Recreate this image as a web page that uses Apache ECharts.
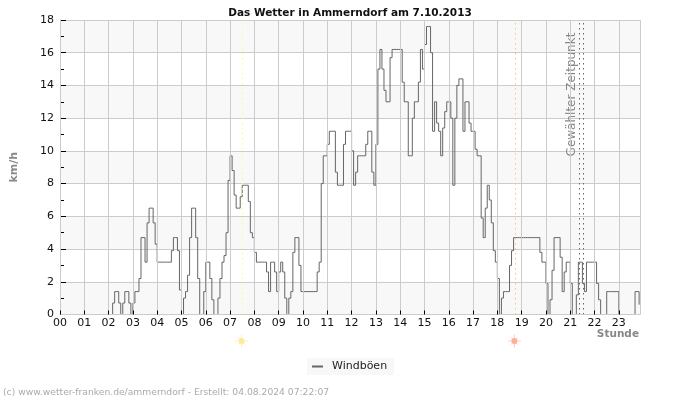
<!DOCTYPE html>
<html><head><meta charset="utf-8">
<style>html,body{margin:0;padding:0;background:#fff}#c{width:700px;height:400px}</style>
<script src="https://cdn.jsdelivr.net/npm/echarts@6/dist/echarts.min.js"></script>
</head><body><div id="c"></div>
<script>
const titleText = 'Das Wetter in Ammerndorf am 7.10.2013';
const footerText = '(c) www.wetter-franken.de/ammerndorf - Erstellt: 04.08.2024 07:22:07';
const seriesName = 'Windböen';
const hourLabels = ['00','01','02','03','04','05','06','07','08','09','10','11','12','13','14','15','16','17','18','19','20','21','22','23'];
const sunrise = 7.49, sunset = 18.72;
const selectedTimes = [21.37, 21.54];
const stepMinutes = 5;
const gusts = [
0,0,0,0,0,0,0,0,0,0,0,0,0,0,0,0,0,0,0,0,0,0,0,0,0,0,
.7,1.4,1.4,.7,0,.7,1.4,1.4,.7,0,.7,1.4,1.4,2.2,4.7,4.7,3.2,5.6,6.5,6.5,5.6,4.3,
3.2,3.2,3.2,3.2,3.2,3.2,3.2,3.9,4.7,4.7,3.9,1.5,0,1,1.4,2.4,4.7,6.5,6.5,4.7,2.2,0,0,
1.4,3.2,3.2,2.2,.9,0,0,1,2.2,3.2,3.6,5,8.2,9.7,8.8,7.3,6.5,6.5,7.2,7.9,7.9,7.9,6.9,5,4.7,3.8,
3.2,3.2,3.2,3.2,3.2,2.6,1.4,3.2,3.2,2.6,1.4,2.6,3.2,2.6,1,0,1,1.4,3.8,4.7,4.7,3,
1.4,1.4,1.4,1.4,1.4,1.4,1.4,1.4,2.6,3.2,8,9.7,9.7,10.4,11.2,11.2,11.2,8.7,7.9,7.9,7.9,10.4,
11.2,11.2,11.2,10,7.9,8.7,9.7,9.7,9.7,9.7,10.4,11.2,11.2,8.7,7.9,10.4,15,16.2,15,13.7,13,13,15.7,
16.2,16.2,16.2,16.2,16.2,14.2,13,13,9.7,9.7,12,13,13,14.2,16.2,15,16.5,17.6,17.6,16,11.2,13,11.7,11.2,9.7,
11.4,12.4,13,13,12,7.9,12,14,14.4,14.4,11.2,13,13,11.7,11.2,11.2,10.1,9.7,9.7,5.9,4.7,6.5,7.9,7,5.6,3.9,3.2,2.2,0,1,
1.4,1.4,1.4,3,3.9,4.7,4.7,4.7,4.7,4.7,4.7,4.7,4.7,4.7,4.7,4.7,4.7,4.7,3.8,3.2,3.2,1.9,0,.9,2.7,4.7,4.7,4.7,3.5,1.4,2.6,
3.2,3.2,1.9,0,0,1.2,3.2,3.2,1.9,1.4,3.2,3.2,3.2,3.2,3.2,1.9,.9,0,0,0,1.4,1.4,1.4,1.4,1.4,1.4,0,0,0,0,0,0,0,0,1.4,1.4,.6
];
const points = gusts.map((v,i)=>[i*stepMinutes/60, v]);

const chart = echarts.init(document.getElementById('c'),null,{renderer:'canvas'});
const FONT='"DejaVu Sans"';
const vline=(x,color)=>({xAxis:x,lineStyle:{color:color,type:[1.5,3.5],width:1}});
chart.setOption({
  animation:false,
  textStyle:{fontFamily:FONT},
  title:{text:titleText,left:'center',top:3,textStyle:{fontFamily:FONT,fontSize:10.5,fontWeight:'bold',color:'#111'}},
  legend:{show:true,left:307,top:358,padding:[3,7,3,5],backgroundColor:'#f8f8f8',icon:'rect',itemWidth:11,itemHeight:2,
    data:[seriesName],textStyle:{fontFamily:FONT,fontSize:11,color:'#222',padding:[0,0,0,4]}},
  grid:{left:60,right:60,top:20,bottom:85.5,containLabel:false},
  xAxis:{type:'value',min:0,max:23.87,interval:1,z:10,
    name:'Stunde',nameLocation:'end',nameGap:-1,
    nameTextStyle:{fontFamily:FONT,fontWeight:'bold',fontSize:10.5,color:'#888',align:'right',verticalAlign:'top',padding:[14,0,0,0]},
    axisLine:{show:true,onZero:false,lineStyle:{color:'#ccc',width:1}},
    axisTick:{show:true,inside:true,length:4,lineStyle:{color:'#000',width:1}},
    axisLabel:{margin:3,fontFamily:FONT,fontSize:11,color:'#111',showMinLabel:true,showMaxLabel:false,
      formatter:v=>hourLabels[Math.round(v)]||''},
    splitLine:{show:true,lineStyle:{color:'#ccc',width:1}}},
  yAxis:{type:'value',min:0,max:18,interval:2,
    name:'km/h',nameLocation:'middle',nameGap:40,nameRotate:90,
    nameTextStyle:{fontFamily:FONT,fontWeight:'bold',fontSize:11,color:'#888'},
    axisLine:{show:true,lineStyle:{color:'#ccc',width:1}},
    axisTick:{show:true,inside:true,length:6,lineStyle:{color:'#000',width:1}},
    minorTick:{show:true,splitNumber:2,length:4,lineStyle:{color:'#000',width:1}},
    axisLabel:{margin:6,fontFamily:FONT,fontSize:11,color:'#111'},
    splitLine:{show:true,lineStyle:{color:'#ccc',width:1}},
    splitArea:{show:true,areaStyle:{color:['#f8f8f8','#ffffff']}}},
  series:[{
    name:seriesName,type:'line',step:'end',showSymbol:false,symbol:'none',
    data:points,z:3,
    lineStyle:{color:'#666',width:1},itemStyle:{color:'#666'},
    markLine:{silent:true,symbol:'none',label:{show:false},animation:false,
      data:[vline(sunrise,'#ffff66'),vline(sunset,'#f5c97a'),vline(selectedTimes[0],'#666'),vline(selectedTimes[1],'#666')]}
  }]
});
function sun(cx,cy,core,ray){
  const kids=[];
  for(let a=0;a<8;a++){
    const t=a*Math.PI/4;
    kids.push({type:'line',shape:{x1:cx+Math.cos(t)*3,y1:cy+Math.sin(t)*3,x2:cx+Math.cos(t)*(a%2?5:6.5),y2:cy+Math.sin(t)*(a%2?5:6.5)},
      style:{stroke:ray,lineWidth:1},silent:true});
  }
  kids.push({type:'circle',shape:{cx:cx,cy:cy,r:3},style:{fill:core},silent:true});
  return {type:'group',children:kids};
}
const sx1=chart.convertToPixel({xAxisIndex:0},sunrise), sx2=chart.convertToPixel({xAxisIndex:0},sunset);
const labelX=chart.convertToPixel({xAxisIndex:0},selectedTimes[0])-7.5;
chart.setOption({graphic:[
  sun(sx1-0.5,341,'#ffe99a','#ffefb8'),
  sun(sx2-0.5,341,'#ffae98','#ffcdbf'),
  {type:'text',x:labelX,y:94.5,rotation:Math.PI/2,silent:true,
    style:{text:'Gewählter Zeitpunkt',fontFamily:FONT,fontSize:12,fill:'#888',align:'center',verticalAlign:'middle'}},
  {type:'text',left:3,top:388,silent:true,
    style:{text:footerText,fontFamily:FONT,fontSize:9.2,fill:'#aaa'}}
]});
</script></body></html>
